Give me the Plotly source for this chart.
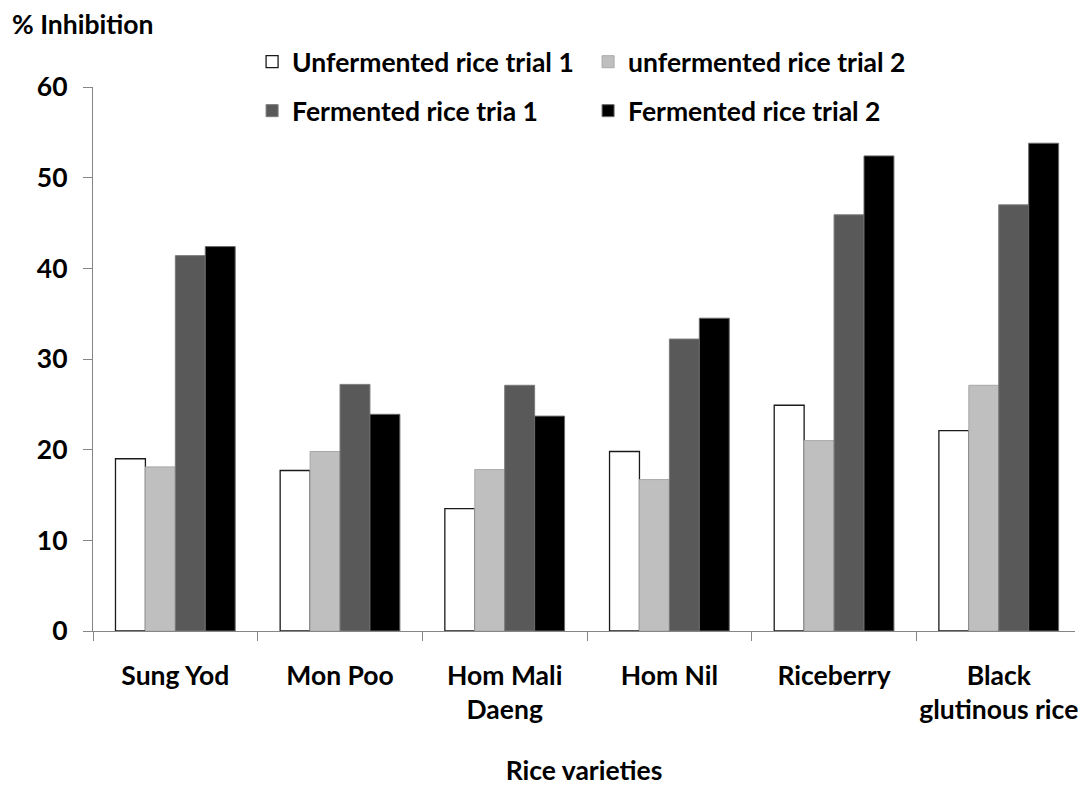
import plotly.graph_objects as go

# Rice varieties (x categories)
varieties = ["Sung Yod", "Mon Poo", "Hom Mali<br>Daeng", "Hom Nil", "Riceberry",
             "Black<br>glutinous rice"]

# % inhibition per series
unfermented_t1 = [19.0, 17.7, 13.5, 19.8, 24.9, 22.1]
unfermented_t2 = [18.1, 19.8, 17.8, 16.7, 21.0, 27.1]
fermented_t1 = [41.4, 27.2, 27.1, 32.2, 45.9, 47.0]
fermented_t2 = [42.4, 23.9, 23.7, 34.5, 52.4, 53.8]

series_names = ["Unfermented rice trial 1", "unfermented rice trial 2",
                "Fermented rice tria 1", "Fermented rice trial 2"]

FONT = "Lato"
FS = 26.5

fig = go.Figure()
styles = [
    dict(color="#FFFFFF", line=dict(color="#1a1a1a", width=1.3)),
    dict(color="#BFBFBF", line=dict(color="#A8A8A8", width=1)),
    dict(color="#595959", line=dict(color="#7a7a7a", width=1)),
    dict(color="#000000", line=dict(color="#6a6a6a", width=1)),
]
legends = ["legend", "legend", "legend2", "legend2"]
for name, vals, st, lg in zip(series_names,
                              [unfermented_t1, unfermented_t2, fermented_t1, fermented_t2],
                              styles, legends):
    fig.add_trace(go.Bar(x=varieties, y=vals, name=name, marker=st, legend=lg))

legend_common = dict(
    orientation="h", xanchor="left", yanchor="middle",
    font=dict(family=FONT, size=FS, color="#000000", weight="bold"),
    bgcolor="rgba(0,0,0,0)", borderwidth=0,
    entrywidth=291, entrywidthmode="pixels", traceorder="normal",
    itemwidth=30, tracegroupgap=0,
)

fig.update_layout(
    width=1078, height=786,
    margin=dict(l=93, r=0, t=87, b=155),
    plot_bgcolor="#FFFFFF", paper_bgcolor="#FFFFFF",
    barmode="group", bargap=0.273, bargroupgap=0,
    font=dict(family=FONT, size=FS, color="#000000", weight="bold"),
    legend=dict(x=0.162, y=1.046, **legend_common),
    legend2=dict(x=0.162, y=0.956, **legend_common),
    xaxis=dict(
        type="category", range=[-0.5, 5.463],
        tickson="boundaries", ticks="outside", ticklen=9, tickcolor="#868686",
        showline=True, linecolor="#868686", linewidth=1.3,
        showgrid=False, zeroline=False,
        tickfont=dict(family=FONT, size=FS, color="#000000", weight="bold"),
        ticklabelstandoff=21,
        title=dict(text="Rice varieties", standoff=38,
                   font=dict(family=FONT, size=FS, color="#000000", weight="bold")),
    ),
    yaxis=dict(
        range=[0, 60], dtick=10, tick0=0,
        ticks="outside", ticklen=9, tickcolor="#868686",
        showline=True, linecolor="#868686", linewidth=1.3,
        showgrid=False, zeroline=False,
        tickfont=dict(family=FONT, size=FS, color="#000000", weight="bold"),
        ticklabelstandoff=10,
    ),
    annotations=[dict(
        text="% Inhibition", xref="paper", yref="paper",
        x=(10 - 93) / 985, y=1 + (87 - 24) / 544,
        xanchor="left", yanchor="middle", showarrow=False,
        font=dict(family=FONT, size=FS, color="#000000", weight="bold"),
    )],
)

fig.write_html("out.html")
